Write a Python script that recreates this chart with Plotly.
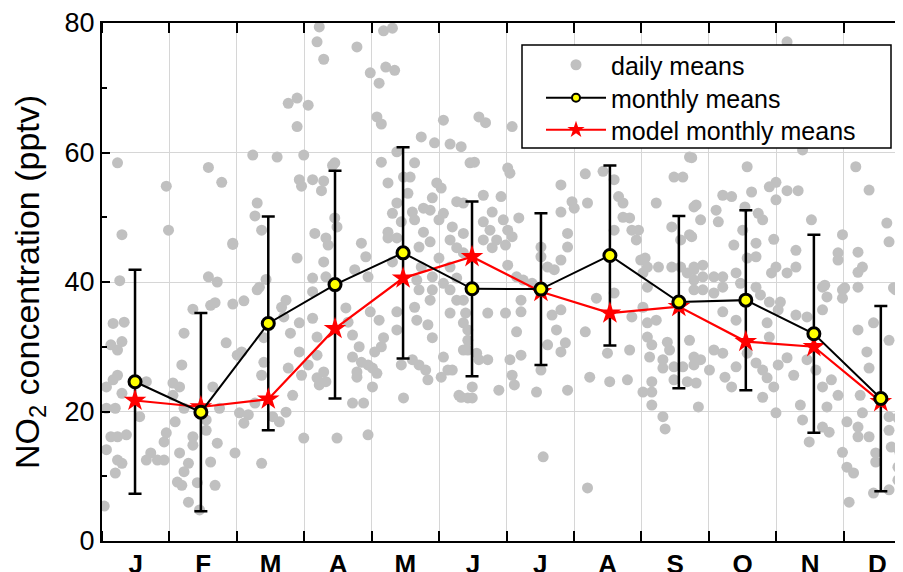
import plotly.graph_objects as go

# ---------------- data ----------------
months = ["J", "F", "M", "A", "M", "J", "J", "A", "S", "O", "N", "D"]

# daily means: (day of year, NO2 pptv)
daily_jan = [(7,58.4),(9,47.3),(8,40.2),(5,33.6),(10,33.8),(4,30.3),(9,30.8),(7,29.5),(7,25.6),(5,24.9),(2,23.8),(9,22.8),(2,20.5),(6,20.5),(17,19.2),(4,16.1),(7,16.1),(11,16.4),(2,14.1),(7,12.5),(9,12.0),(6,10.5),(1,5.4),(20,24.6),(22,13.6),(25,12.5),(20,12.5),(28,12.5),(29,16.7),(28,15.3),(29,54.8),(30,48.0)]
daily_feb = [(32,24.4),(35,23.8),(32,22.5),(37,20.5),(33,18.4),(36,27.2),(37,32.1),(41,35.8),(49,36.4),(51,36.8),(59,36.6),(56,30.6),(61,28.7),(50,23.8),(53,20.5),(41,16.1),(41,14.8),(35,13.6),(39,12.0),(47,17.1),(47,18.7),(52,15.1),(49,12.2),(37,10.7),(34,9.1),(36,8.6),(43,9.0),(51,8.6),(39,6.0),(44,4.8),(60,13.6),(48,57.7),(54,55.4),(59,45.8),(48,40.8),(52,40.0)]
daily_mar = [(62,19.8),(64,37.1),(63,29.2),(70,38.8),(73,31.4),(73,27.6),(72,25.6),(69,21.3),(66,19.5),(64,18.2),(72,12.0),(77,19.2),(80,18.4),(83,19.9),(81,36.1),(82,34.6),(83,37.2),(85,32.1),(86,22.5),(84,26.7),(89,33.7),(89,29.2),(90,25.6),(91,15.9),(68,59.6),(79,59.3),(70,52.2),(69,50.2),(72,48.0),(74,40.4),(71,39.2),(84,67.6),(88,68.4),(88,64.0),(91,59.6),(89,55.8),(90,54.8),(88,43.7),(59,46.0)]
daily_apr = [(93,67.3),(95,55.8),(100,55.6),(99,54.1),(96,47.5),(101,46.8),(102,45.7),(100,43.1),(95,40.6),(101,40.8),(98,79.4),(97,77.1),(100,74.4),(115,76.3),(105,58.4),(104,58.0),(105,49.9),(106,48.5),(117,46.0),(119,43.9),(114,41.9),(120,40.8),(121,72.3),(93,27.2),(95,38.5),(95,34.4),(97,31.5),(97,28.7),(97,25.2),(100,26.1),(101,24.6),(98,24.1),(106,15.9),(110,36.0),(111,33.8),(113,31.8),(113,28.4),(115,26.1),(115,25.3),(113,21.3),(118,21.3),(116,30.0),(117,27.6),(120,27.2),(120,16.4),(121,35.4)]
daily_may = [(127,78.8),(131,79.2),(128,73.2),(132,72.7),(125,70.7),(124,65.5),(126,64.4),(126,58.5),(133,60.1),(141,58.4),(136,56.2),(139,56.2),(129,55.3),(133,52.2),(138,53.7),(131,50.6),(135,49.3),(129,47.7),(129,46.8),(133,46.8),(131,43.1),(140,50.8),(141,49.6),(145,51.4),(148,51.1),(145,47.7),(143,45.4),(148,46.2),(144,62.4),(150,61.5),(151,55.3),(149,53.0),(144,42.3),(142,40.3),(149,40.8),(123,29.2),(122,26.7),(124,25.9),(126,30.0),(127,31.4),(122,23.8),(125,34.1),(133,35.4),(133,32.6),(135,27.2),(136,22.1),(140,28.0),(143,27.2),(146,26.4),(147,24.9),(141,36.1),(142,34.1),(143,38.8),(147,33.4),(149,31.4),(149,38.8),(148,37.2)]
daily_jun = [(154,65.0),(157,61.3),(162,60.9),(153,54.5),(154,50.6),(152,49.6),(160,52.4),(158,48.5),(163,47.5),(157,46.5),(160,45.3),(152,43.7),(157,42.3),(163,44.5),(154,39.8),(160,40.6),(166,58.4),(170,65.5),(173,64.6),(168,58.5),(163,52.2),(172,53.4),(180,53.2),(176,50.8),(172,49.3),(175,48.0),(181,49.6),(178,46.5),(176,45.3),(172,46.5),(182,45.7),(154,28.4),(156,26.4),(153,25.3),(158,26.4),(161,22.5),(157,35.2),(157,38.8),(160,37.2),(163,33.7),(165,29.5),(165,22.1),(163,37.2),(164,35.2),(165,32.6),(165,31.0),(163,29.5),(169,29.0),(170,28.0),(174,28.0),(167,23.8),(167,22.1),(162,22.2),(174,35.2),(179,23.3),(182,35.2)]
daily_jul = [(185,64.0),(183,57.6),(184,56.8),(188,49.9),(185,47.0),(183,48.0),(183,42.6),(187,40.8),(190,40.3),(194,39.8),(198,45.4),(198,43.9),(201,42.3),(207,43.4),(204,41.9),(207,55.0),(207,50.8),(210,47.5),(210,45.4),(212,52.4),(184,28.0),(185,25.6),(186,24.1),(187,32.3),(189,28.7),(189,35.4),(189,37.2),(196,23.0),(198,26.4),(199,13.0),(201,30.3),(205,32.6),(207,35.7),(207,29.2),(209,30.6),(210,23.3),(203,34.9)]
daily_aug = [(213,51.4),(218,56.7),(219,52.2),(226,57.1),(231,55.8),(233,53.2),(235,52.2),(235,50.0),(238,49.9),(239,48.0),(242,48.0),(241,46.5),(231,48.0),(243,43.4),(218,32.3),(220,25.3),(223,37.5),(228,29.0),(229,24.6),(231,38.3),(237,24.9),(238,29.5),(219,8.2),(239,34.6),(244,41.4)]
daily_sep = [(245,43.7),(246,42.3),(251,42.3),(250,52.2),(258,56.2),(262,56.2),(265,59.3),(257,48.5),(261,46.5),(265,47.3),(267,51.6),(257,42.3),(261,42.3),(264,41.4),(267,42.3),(267,40.3),(266,59.2),(268,51.9),(270,49.6),(266,47.0),(271,42.6),(267,41.9),(271,40.8),(244,36.1),(244,23.0),(246,33.7),(246,31.5),(248,24.6),(248,23.0),(248,21.0),(253,19.2),(254,17.3),(248,30.3),(247,28.4),(253,28.0),(253,26.7),(255,30.7),(256,29.5),(258,26.9),(262,26.9),(258,24.9),(264,24.6),(265,31.0),(267,28.4),(267,27.2),(268,24.4),(269,20.7),(250,34.1),(246,39.2),(267,38.8),(271,38.8),(270,28.0)]
daily_oct = [(280,53.4),(284,53.2),(277,51.1),(290,51.6),(296,50.6),(298,49.6),(278,49.3),(289,48.0),(291,57.8),(301,54.7),(293,53.9),(304,52.7),(285,45.7),(295,46.0),(303,46.6),(291,43.7),(295,43.9),(276,40.8),(280,40.8),(286,41.4),(288,39.8),(295,39.2),(302,41.4),(276,38.3),(280,39.2),(297,38.0),(301,36.9),(280,35.4),(286,34.1),(274,26.4),(276,29.5),(280,29.0),(281,25.3),(284,23.8),(286,26.9),(291,29.0),(295,27.5),(298,26.4),(300,33.7),(301,31.5),(300,25.2),(303,23.8),(298,22.2),(304,19.8)]
daily_nov = [(304,55.4),(309,54.1),(314,54.1),(320,49.6),(316,60.4),(309,77.1),(313,44.9),(313,42.3),(309,41.4),(304,42.3),(326,39.5),(334,47.3),(332,44.5),(332,43.4),(306,36.9),(305,35.7),(313,34.9),(318,34.6),(325,39.2),(327,37.7),(325,35.7),(334,38.8),(334,37.5),(305,27.2),(309,28.3),(312,25.6),(315,21.0),(316,18.7),(319,15.3),(318,28.0),(322,26.4),(325,23.8),(327,20.7),(325,17.6),(328,16.8),(329,24.9),(332,22.5)]
daily_dec = [(335,39.1),(340,57.8),(346,54.2),(354,49.1),(355,46.2),(341,44.6),(343,42.3),(341,41.5),(341,39.2),(357,39.1),(358,38.8),(348,33.7),(341,32.6),(355,31.0),(345,29.2),(346,26.7),(336,18.4),(334,13.7),(336,11.4),(339,10.5),(337,6.0),(341,17.6),(341,16.1),(342,22.5),(343,19.8),(346,16.1),(349,13.6),(349,12.2),(348,7.4),(355,17.1),(356,14.5),(359,14.3),(360,13.6),(359,11.4),(359,9.4),(355,7.9),(361,6.8),(355,19.2),(359,19.0)]

# monthly means (observations) with +/- standard deviation
month_day = [14.9, 44.6, 75.0, 105.1, 135.8, 166.9, 198.0, 229.1, 260.2, 290.4, 321.1, 351.3]
obs_mean = [24.6, 19.9, 33.6, 39.6, 44.5, 38.95, 38.9, 44.1, 36.9, 37.2, 32.0, 22.0]
obs_sd = [17.3, 15.3, 16.5, 17.6, 16.3, 13.5, 11.7, 13.9, 13.3, 13.9, 15.3, 14.3]
model_mean = [21.7, 20.7, 21.9, 32.8, 40.6, 43.9, 38.5, 35.2, 36.2, 30.8, 30.0, 21.5]

# ---------------- figure ----------------
all_daily = (daily_jan + daily_feb + daily_mar + daily_apr + daily_may + daily_jun +
             daily_jul + daily_aug + daily_sep + daily_oct + daily_nov + daily_dec)
dx = [p[0] for p in all_daily]
dy = [p[1] for p in all_daily]

FONT = "Liberation Sans, Arial, sans-serif"
MONTH_LEN = 365.0 / 12.0

# The page body has an 8 px default margin; the figure is sized so that
# its plot area lands at page pixels x 102..903, y 23..541.
PAGE_OFF = 8
W, H = 903 - PAGE_OFF, 572 - PAGE_OFF
ML, MT = 102 - PAGE_OFF, 23 - PAGE_OFF
MR = 0
PW = W - ML - MR
PH = 518
MB = H - MT - PH


def px_x(p):
    return (p - PAGE_OFF - ML) / PW


def px_y(p):
    return 1 - (p - PAGE_OFF - MT) / PH


GRAY = "#c0c0c0"

fig = go.Figure()

fig.add_trace(go.Scatter(
    x=dx, y=dy, mode="markers", name="daily means", showlegend=False,
    marker=dict(color=GRAY, size=11, line=dict(width=0)),
))

# error bars only (black)
fig.add_trace(go.Scatter(
    x=month_day, y=obs_mean, mode="markers", showlegend=False,
    marker=dict(size=1, color="rgba(0,0,0,0)"),
    error_y=dict(type="data", array=obs_sd, visible=True,
                 color="black", thickness=2.5, width=6.5),
    hoverinfo="skip",
))

fig.add_trace(go.Scatter(
    x=month_day, y=model_mean, mode="lines+markers", name="model monthly means",
    showlegend=False,
    line=dict(color="#ff0000", width=2.2),
    marker=dict(symbol="star", size=17, color="#ff0000", line=dict(width=0)),
))

fig.add_trace(go.Scatter(
    x=month_day, y=obs_mean, mode="lines+markers", name="monthly means",
    showlegend=False,
    line=dict(color="black", width=2),
    marker=dict(symbol="circle", size=12, color="#ffff00",
                line=dict(color="black", width=3)),
))

# legend keys (legend-only entries, smaller symbols as in the original)
fig.add_trace(go.Scatter(
    x=[None], y=[None], mode="markers", name="daily means", legend="legend",
    marker=dict(color=GRAY, size=11, line=dict(width=0)),
))
fig.add_trace(go.Scatter(
    x=[None], y=[None], mode="lines+markers", name="monthly means", legend="legend2",
    line=dict(color="black", width=2),
    marker=dict(symbol="circle", size=8, color="#ffff00",
                line=dict(color="black", width=2)),
))
fig.add_trace(go.Scatter(
    x=[None], y=[None], mode="lines+markers", name="model monthly means",
    legend="legend3",
    line=dict(color="#ff0000", width=2.2),
    marker=dict(symbol="star", size=13, color="#ff0000", line=dict(width=0)),
))

leg_common = dict(
    xanchor="left", yanchor="middle",
    bgcolor="rgba(0,0,0,0)", borderwidth=0,
    font=dict(family=FONT, size=25, color="black"),
    itemwidth=60,
)

fig.update_layout(
    width=W, height=H,
    margin=dict(l=ML, r=MR, t=MT, b=MB),
    paper_bgcolor="white", plot_bgcolor="white",
    font=dict(family=FONT, color="black", size=26),
    showlegend=True,
    legend=dict(x=px_x(541), y=px_y(65), **leg_common),
    legend2=dict(x=px_x(541), y=px_y(98), **leg_common),
    legend3=dict(x=px_x(541), y=px_y(130), **leg_common),
    shapes=[dict(type="rect", xref="paper", yref="paper",
                 x0=px_x(522), x1=px_x(891), y0=px_y(148), y1=px_y(45),
                 fillcolor="white", line=dict(color="black", width=1.5),
                 layer="above")],
)

fig.update_xaxes(
    range=[0, 361.3], automargin=False,
    tickmode="array",
    tickvals=[MONTH_LEN * (i + 0.5) for i in range(12)],
    ticktext=months,
    ticks="", showgrid=False, zeroline=False,
    tickfont=dict(family=FONT, size=26, color="black", weight="bold"),
    ticklabelstandoff=-1,
    showline=True, linecolor="black", linewidth=2, mirror="ticks",
    minor=dict(tickmode="linear", tick0=0, dtick=MONTH_LEN,
               ticks="inside", ticklen=10, tickwidth=2, tickcolor="black",
               showgrid=True, gridcolor="#d6d6d6", gridwidth=1),
)

fig.update_yaxes(
    range=[0, 80], automargin=False,
    tickmode="array", tickvals=[0, 20, 40, 60, 80],
    ticks="inside", ticklen=8, tickwidth=2, tickcolor="black",
    showgrid=True, gridcolor="#d6d6d6", gridwidth=1, zeroline=False,
    tickfont=dict(family=FONT, size=27, color="black"),
    showline=True, linecolor="black", linewidth=2,
    minor=dict(tickmode="linear", tick0=0, dtick=10, ticks="inside",
               ticklen=5, tickwidth=2, tickcolor="black", showgrid=False),
    title=dict(text="NO<sub>2</sub> concentration (pptv)",
               font=dict(family=FONT, size=34, color="black"), standoff=18),
)

fig.write_html("out.html")
